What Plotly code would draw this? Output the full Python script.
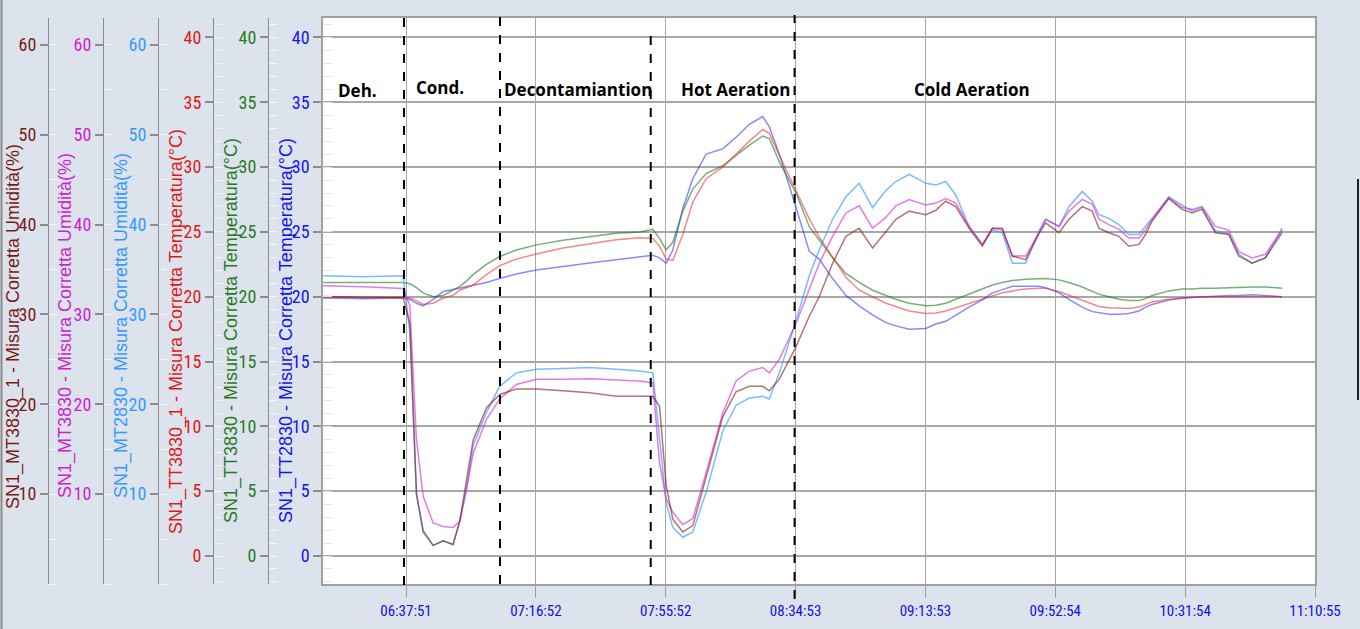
import pandas as pd
import plotly.graph_objects as go

# ---------------- data ----------------
times = ["06:13", "06:25", "06:37", "06:39", "06:41", "06:43", "06:46", "06:49", "06:52", "06:54",
         "06:56", "06:58", "07:02", "07:06", "07:11", "07:17", "07:25", "07:33", "07:41", "07:48",
         "07:52", "07:54", "07:56", "07:58", "08:01", "08:04", "08:08", "08:13", "08:17", "08:21",
         "08:25", "08:27", "08:30", "08:35", "08:39", "08:42", "08:46", "08:50", "08:54", "08:58",
         "09:02", "09:05", "09:09", "09:14", "09:17", "09:20", "09:23", "09:27", "09:31", "09:34",
         "09:37", "09:40", "09:44", "09:48", "09:50", "09:54", "09:57", "10:01", "10:04", "10:06",
         "10:09", "10:12", "10:15", "10:18", "10:20", "10:22", "10:27", "10:31", "10:34", "10:37",
         "10:41", "10:45", "10:48", "10:52", "10:56", "11:01"]

tt3830 = [21.1, 21.1, 21.1, 21.0, 20.7, 20.3, 20.0, 20.1, 20.5, 20.8,
          21.2, 21.7, 22.5, 23.1, 23.6, 24.0, 24.35, 24.6, 24.9, 25.0,
          25.2, 24.5, 23.6, 24.2, 26.6, 28.3, 29.5, 30.1, 30.9, 31.7,
          32.4, 32.2, 30.4, 28.0, 25.4, 24.4, 23.0, 21.8, 21.1, 20.5,
          20.1, 19.8, 19.5, 19.3, 19.35, 19.5, 19.8, 20.2, 20.6, 20.9,
          21.1, 21.25, 21.35, 21.4, 21.4, 21.3, 21.1, 20.75, 20.45, 20.2,
          20.0, 19.8, 19.7, 19.7, 19.85, 20.1, 20.45, 20.6, 20.6, 20.65,
          20.65, 20.7, 20.75, 20.75, 20.75, 20.65]

tt3830_1 = [20.0, 20.0, 19.95, 19.9, 19.7, 19.4, 19.5, 19.9, 20.1, 20.5,
            20.7, 20.9, 21.7, 22.4, 22.9, 23.3, 23.75, 24.1, 24.4, 24.55,
            24.5, 23.9, 22.9, 22.8, 24.8, 27.3, 29.1, 30.0, 31.0, 32.0,
            32.9, 32.6, 30.9, 28.2, 26.0, 24.6, 23.0, 21.5, 20.5, 20.0,
            19.5, 19.25, 18.9, 18.7, 18.75, 18.9, 19.15, 19.5, 19.85, 20.1,
            20.3, 20.45, 20.6, 20.65, 20.65, 20.4, 20.1, 19.7, 19.4, 19.25,
            19.15, 19.1, 19.1, 19.2, 19.4, 19.6, 19.8, 19.9, 19.95, 20.0,
            20.0, 20.0, 20.0, 20.0, 20.0, 20.0]

tt2830 = [19.9, 19.85, 19.9, 19.8, 19.5, 19.3, 19.8, 20.4, 20.55, 20.65,
          20.75, 20.9, 21.1, 21.4, 21.75, 22.06, 22.35, 22.6, 22.85, 23.05,
          23.2, 23.0, 22.6, 23.6, 26.8, 29.1, 31.0, 31.4, 32.3, 33.3,
          33.9, 33.1, 31.0, 26.9, 23.5, 22.9, 21.4, 20.1, 19.3, 18.6,
          18.0, 17.75, 17.5, 17.55, 17.9, 18.1, 18.6, 19.2, 19.75, 20.3,
          20.55, 20.8, 20.8, 20.8, 20.7, 20.3, 19.8, 19.2, 18.85, 18.75,
          18.65, 18.65, 18.7, 18.9, 19.2, 19.4, 19.75, 19.9, 19.95, 20.0,
          20.05, 20.1, 20.1, 20.15, 20.1, 20.0]

mt2830 = [34.3, 34.2, 34.3, 28.0, 10.0, 6.0, 4.3, 4.8, 4.4, 7.0,
          10.5, 15.4, 19.1, 22.0, 23.5, 23.9, 24.0, 24.1, 23.9, 23.7,
          23.5, 16.0, 9.0, 6.3, 5.2, 5.8, 10.2, 17.0, 19.9, 20.7,
          20.9, 20.6, 23.5, 29.3, 34.3, 37.2, 40.6, 43.1, 44.6, 41.9,
          43.8, 44.8, 45.6, 44.6, 44.4, 44.8, 43.3, 39.8, 37.8, 39.4,
          39.1, 35.7, 35.7, 39.3, 40.6, 39.8, 42.0, 43.7, 42.6, 41.1,
          40.7, 40.0, 38.9, 38.9, 39.8, 40.7, 43.1, 42.2, 41.5, 41.9,
          39.3, 39.0, 36.7, 35.7, 36.3, 39.6]

mt3830 = [33.2, 33.1, 32.9, 31.0, 16.0, 9.8, 6.8, 6.4, 6.3, 7.0,
          10.5, 14.5, 18.3, 20.6, 22.2, 22.8, 22.8, 22.85, 22.7, 22.6,
          22.4, 13.5, 9.5, 8.0, 6.6, 7.3, 12.4, 19.0, 22.6, 23.7,
          24.1, 23.5, 25.0, 29.0, 32.8, 35.7, 38.7, 41.3, 42.1, 39.6,
          40.8, 42.1, 42.8, 42.2, 42.4, 42.9, 42.4, 39.8, 37.8, 39.6,
          39.4, 36.5, 36.5, 39.1, 40.6, 39.8, 41.5, 42.8, 42.3, 40.6,
          40.0, 39.5, 38.5, 38.5, 39.4, 40.6, 43.0, 41.9, 41.7, 42.0,
          39.8, 39.4, 37.0, 36.3, 36.7, 39.4]

mt3830_1 = [32.0, 31.9, 31.9, 29.0, 10.0, 5.8, 4.3, 4.8, 4.4, 7.0,
            11.5, 16.0, 19.6, 21.1, 21.7, 21.7, 21.5, 21.3, 20.9, 20.9,
            20.9, 19.8, 11.0, 7.2, 5.8, 6.5, 12.0, 18.6, 21.4, 22.0,
            22.0, 21.5, 22.8, 26.4, 29.8, 32.0, 35.7, 38.7, 39.6, 37.4,
            39.2, 40.6, 41.5, 41.1, 41.6, 42.6, 42.0, 39.6, 37.6, 39.6,
            39.6, 36.5, 36.1, 39.0, 40.2, 39.1, 40.6, 42.0, 41.5, 39.6,
            39.1, 38.7, 37.6, 37.8, 38.9, 40.4, 42.9, 41.7, 41.3, 41.7,
            39.1, 38.9, 36.5, 35.7, 36.3, 39.1]

tick_labels = ["06:37:51", "07:16:52", "07:55:52", "08:34:53",
               "09:13:53", "09:52:54", "10:31:54", "11:10:55"]
x_start, x_end = "06:12:55", "11:10:55"

phase_names = ["Deh.", "Cond.", "Decontamiantion", "Hot Aeration", "Cold Aeration"]
phase_bounds = ["06:37:15", "07:06:05", "07:51:22", "08:34:35"]

DAY = "2024-01-01 "
def dt(s):
    return pd.to_datetime(DAY + s)

t = [dt(s) for s in times]

# ---------------- layout geometry ----------------
W, H = 1360, 629
PL, PR, PT, PB = 323, 1315, 18, 584
def px(x):
    return x / W
def py(y):
    return 1 - y / H

TEMP_RANGE = [-2.16, 41.5]
HUM_RANGE = [0, 63]

tick_font = "Liberation Sans Narrow, Arial Narrow, Roboto Condensed, Liberation Sans, sans-serif"

series = [
    # name, data, axis, line colour, label colour, axis x px, title x px, title y px, kind
    ("SN1_TT2830 - Misura Corretta Temperatura(°C)", tt2830, "y", "rgba(40,40,255,0.55)", "#1414F0", None, 286, 331, "temp"),
    ("SN1_TT3830 - Misura Corretta Temperatura(°C)", tt3830, "y2", "rgba(30,120,30,0.6)", "#2A7A22", 268, 231, 331, "temp"),
    ("SN1_TT3830_1 - Misura Corretta Temperatura(°C)", tt3830_1, "y3", "rgba(230,40,40,0.55)", "#E01818", 213, 176, 332, "temp"),
    ("SN1_MT2830 - Misura Corretta Umidità(%)", mt2830, "y4", "rgba(50,150,255,0.65)", "#3399FF", 158, 121, 326, "hum"),
    ("SN1_MT3830 - Misura Corretta Umidità(%)", mt3830, "y5", "rgba(215,50,215,0.65)", "#CC22CC", 103, 65, 326, "hum"),
    ("SN1_MT3830_1 - Misura Corretta Umidità(%)", mt3830_1, "y6", "rgba(130,25,20,0.6)", "#7A1A14", 48, 9, 327, "hum"),
]

fig = go.Figure()
for name, vals, ax, lc, *_ in series[::-1]:
    fig.add_trace(go.Scatter(x=t, y=vals, yaxis=ax, mode="lines", name=name,
                             line=dict(color=lc, width=1.5), showlegend=False,
                             hoverinfo="skip"))

layout = dict(
    width=W, height=H, autosize=False,
    margin=dict(l=0, r=0, t=0, b=0, pad=0, autoexpand=False),
    paper_bgcolor="#DDE3EC",
    plot_bgcolor="#FFFFFF",
    showlegend=False,
    xaxis=dict(
        domain=[px(PL), px(PR)],
        type="date", automargin=False,
        range=[dt(x_start), dt(x_end)],
        tickvals=[dt(s) for s in tick_labels],
        ticktext=tick_labels,
        tickfont=dict(family=tick_font, size=15, color="#1010E6"),
        ticks="outside", ticklen=12, tickcolor="#A0A0A0", tickwidth=1,
        showgrid=True, gridcolor="#A8A8A8", gridwidth=1,
        showline=True, linecolor="#A0A0A0", linewidth=1.5, mirror=True,
        zeroline=False,
    ),
)

for name, vals, ax, lc, labc, axx, titx, tity, kind in series:
    key = "yaxis" if ax == "y" else "yaxis" + ax[1:]
    rng = TEMP_RANGE if kind == "temp" else HUM_RANGE
    tv = list(range(0, 41, 5)) if kind == "temp" else list(range(10, 61, 10))
    d = dict(
        range=rng, tickvals=tv, automargin=False,
        tickfont=dict(family=tick_font, size=18, color=labc),
        ticks="outside", ticklen=8, tickcolor="#8C8C8C", tickwidth=1.5,
        showline=True, linecolor="#8C8C8C", linewidth=1,
        zeroline=False, fixedrange=True,
        minor=dict(ticks="inside", ticklen=8, tickcolor="#F4F6FA", tickwidth=1,
                   dtick=1 if kind == "temp" else 5, showgrid=False),
    )
    if ax == "y":
        d.update(domain=[py(PB), py(PT)], anchor="x", side="left",
                 showgrid=True, gridcolor="#A8A8A8", gridwidth=1.8,
                 linecolor="#A0A0A0", mirror=True, linewidth=1.5,
                 minor=dict(ticks="inside", ticklen=9, tickcolor="#E4E4E4",
                            tickwidth=1, dtick=1, showgrid=False))
    else:
        d.update(overlaying="y", anchor="free", position=px(axx), side="left",
                 showgrid=False)
    layout[key] = d

fig.update_layout(**layout)

# axis titles (rotated)
for name, vals, ax, lc, labc, axx, titx, tity, kind in series:
    edge = titx < 12
    fig.add_annotation(x=px(0.5) if edge else px(titx), y=py(tity),
                       xref="paper", yref="paper",
                       text=name, textangle=-90, showarrow=False,
                       xanchor="left" if edge else "center", yanchor="middle",
                       font=dict(family="Liberation Sans, Arial, sans-serif", size=18, color=labc))

# phase boundary dashed lines
line_spans = [(15, 585), (15, 584), (33, 585), (15, 599)]
for b, (ya, yb) in zip(phase_bounds, line_spans):
    fig.add_shape(type="line", xref="x", yref="paper",
                  x0=dt(b), x1=dt(b), y0=py(yb), y1=py(ya),
                  line=dict(color="black", width=2, dash="dash"))

# phase labels
label_px = [(357, 91), (440, 88), (578, 90), (735, 90), (972, 90)]
for name, (lx, ly) in zip(phase_names, label_px):
    fig.add_annotation(x=px(lx), y=py(ly), xref="paper", yref="paper",
                       text="<b>" + name + "</b>", showarrow=False,
                       xanchor="center", yanchor="middle",
                       font=dict(family="Open Sans, Lato, sans-serif", size=17, color="black"))

# window edges
fig.add_shape(type="line", xref="paper", yref="paper", x0=px(1.5), x1=px(1.5), y0=0, y1=1,
              line=dict(color="#8A8A8A", width=2))
fig.add_shape(type="line", xref="paper", yref="paper", x0=px(1358), x1=px(1358),
              y0=py(400), y1=py(179), line=dict(color="#202020", width=2))

fig.write_html("out.html",
               config={"displayModeBar": False},
               post_script="document.body.style.margin='0px';"
                           "document.body.style.overflow='hidden';")
